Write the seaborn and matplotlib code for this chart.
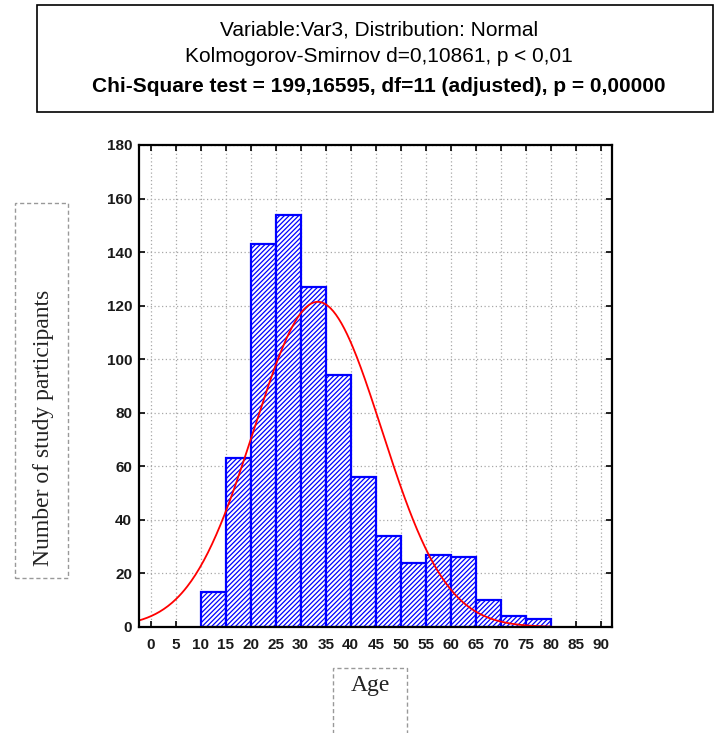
import numpy as np
import pandas as pd
import matplotlib
matplotlib.use("Agg")
import matplotlib.pyplot as plt
import seaborn as sns
from matplotlib.patches import Rectangle

# ---- data ----
bin_edges = [10, 15, 20, 25, 30, 35, 40, 45, 50, 55, 60, 65, 70, 75, 80]
counts = [13, 63, 143, 154, 127, 94, 56, 34, 24, 27, 26, 10, 4, 3]
x_ticks = list(range(0, 95, 5))
y_ticks = list(range(0, 200, 20))
title_lines = ["Variable:Var3, Distribution: Normal",
               "Kolmogorov-Smirnov d=0,10861, p < 0,01",
               "Chi-Square test = 199,16595, df=11 (adjusted), p = 0,00000"]
x_label = "Age"
y_label = "Number of study participants"

sns.set_theme(style="white")
plt.rcParams['font.family'] = ['Liberation Sans', 'DejaVu Sans']
plt.rcParams['hatch.linewidth'] = 0.9
plt.rcParams['hatch.color'] = 'blue'

centers = [(a + b) / 2 for a, b in zip(bin_edges[:-1], bin_edges[1:])]
df = pd.DataFrame({"age": centers, "n": counts})

fig = plt.figure(figsize=(7.2, 7.33), dpi=100)
ax = fig.add_axes([139/720, 1-627/733, (612-139)/720, (627-145)/733])

sns.histplot(data=df, x="age", weights="n", bins=bin_edges, stat="count",
             ax=ax, color="white", edgecolor="blue", linewidth=1.6, alpha=1)
for p in ax.patches:
    p.set_facecolor("white")
    p.set_edgecolor("blue")
    p.set_hatch("///////")

# fitted normal from the histogram itself
c = np.array(centers); w = np.array(counts)
N = w.sum(); mu = (c*w).sum()/N; sd = np.sqrt((w*(c-mu)**2).sum()/N)
xmin, xmax = -2.3, 92.2
xs = np.linspace(xmin, 80, 300)
ys = N*5/(sd*np.sqrt(2*np.pi))*np.exp(-0.5*((xs-mu)/sd)**2)
sns.lineplot(x=xs, y=ys, ax=ax, color="red", linewidth=1.3)

ax.set_xlim(xmin, xmax)
ax.set_ylim(0, 180)
ax.set_xticks(x_ticks)
ax.set_yticks(y_ticks)
ax.set_xlabel("")
ax.set_ylabel("")
ax.grid(True, linestyle=(0, (1, 2)), color="#a8a8a8", linewidth=0.9)
ax.set_axisbelow(True)
for s in ax.spines.values():
    s.set_color("black")
    s.set_linewidth(1.6)
    s.set_visible(True)
ax.tick_params(direction="in", length=4, width=1.2, top=True, right=True,
               bottom=True, left=True, color="black")
ax.tick_params(axis="x", pad=8)
ax.tick_params(axis="y", pad=5)
for lab in ax.get_xticklabels() + ax.get_yticklabels():
    lab.set_fontfamily(['Liberation Sans Narrow', 'Liberation Sans', 'DejaVu Sans'])
    lab.set_fontweight("bold")
    lab.set_fontsize(11)
    lab.set_color("#1a1a1a")

# title box
fig.patches.append(Rectangle((37/720, 1-112/733), (713-37)/720, (112-5)/733,
                             transform=fig.transFigure, fill=False,
                             edgecolor="black", linewidth=1.2))
ys_t = [30, 57, 86]
for i, (t, yy) in enumerate(zip(title_lines, ys_t)):
    fig.text(379/720, 1-yy/733, t, ha="center", va="center", fontsize=15,
             fontweight="bold" if i == 2 else "normal", color="black")

# y label box
fig.patches.append(Rectangle((15/720, 1-578/733), (68-15)/720, (578-203)/733,
                             transform=fig.transFigure, fill=False,
                             edgecolor="#999999", linewidth=1.0, linestyle=(0, (3, 2))))
fig.text(44/720, 1-428/733, y_label, rotation=90, ha="center", va="center",
         fontsize=17, family=['Liberation Serif', 'DejaVu Serif'], color="#222222")

# x label box
fig.patches.append(Rectangle((333/720, 1-740/733), (407-333)/720, (740-668)/733,
                             transform=fig.transFigure, fill=False,
                             edgecolor="#999999", linewidth=1.0, linestyle=(0, (3, 2))))
fig.text(370/720, 1-685/733, x_label, ha="center", va="center",
         fontsize=17, family=['Liberation Serif', 'DejaVu Serif'], color="#222222")

fig.savefig("out.png", dpi=100)
